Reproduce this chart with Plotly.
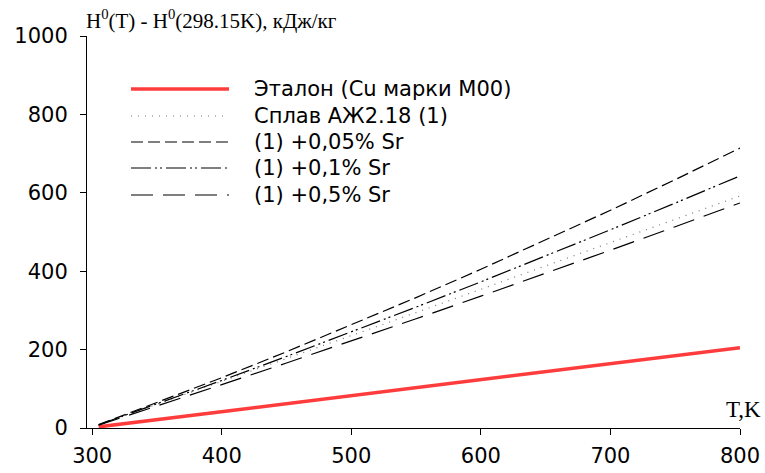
import plotly.graph_objects as go

T = [305, 350, 400, 450, 500, 550, 600, 650, 700, 750, 800]
etalon = [2.9, 21.2, 41.6, 62.0, 82.4, 102.8, 123.2, 143.6, 164.0, 184.4, 204.8]
alloy = [8.1, 60.3, 118.5, 177.0, 235.7, 294.5, 353.6, 412.8, 472.3, 532.1, 592.0]
sr005 = [8.5, 64.4, 128.4, 194.5, 262.6, 332.7, 404.9, 479.1, 555.4, 633.7, 714.0]
sr01 = [8.2, 61.2, 121.3, 182.5, 244.9, 308.4, 372.9, 438.7, 505.7, 573.8, 643.1]
sr05 = [7.5, 56.0, 110.6, 165.9, 221.9, 278.7, 336.3, 394.6, 453.7, 513.5, 574.1]

names = ["Эталон (Cu марки M00)", "Сплав АЖ2.18 (1)", "(1) +0,05% Sr", "(1) +0,1% Sr", "(1) +0,5% Sr"]
x_ticks = [300, 400, 500, 600, 700, 800]
y_ticks = [0, 200, 400, 600, 800, 1000]

styles = [
    dict(color="#ff3c3c", width=3.5, dash="solid"),
    dict(color="#777777", width=1.2, dash="1px,6px"),
    dict(color="black", width=1.2, dash="12px,5px"),
    dict(color="black", width=1.2, dash="20px,4px,2px,3px,2px,4px"),
    dict(color="black", width=1.2, dash="22px,10px"),
]
series = [etalon, alloy, sr005, sr01, sr05]

W, H = 765, 473
L, R, TOP, BOT = 87, 740, 36, 428

def px(x):
    return (x - L) / (R - L)

def py(y):
    return (BOT - y) / (BOT - TOP)

fig = go.Figure()
for s, st, nm in zip(series, styles, names):
    fig.add_trace(go.Scatter(x=T, y=s, mode="lines", name=nm, line=st, showlegend=False))

shapes = []
annotations = []
rows = [89, 116, 142, 168, 195]
for i, (st, nm) in enumerate(zip(styles, names)):
    yy = py(rows[i])
    shapes.append(dict(type="line", xref="paper", yref="paper", x0=px(131), x1=px(229), y0=yy, y1=yy,
                       line=st))
    annotations.append(dict(xref="paper", yref="paper", x=px(252), y=yy, text=nm, showarrow=False,
                            xanchor="left", yanchor="middle",
                            font=dict(family="DejaVu Sans", size=21, color="black")))

annotations.append(dict(xref="paper", yref="paper", x=px(84), y=py(4), yanchor="top", xanchor="left",
                        text="H<sup>0</sup>(T) - H<sup>0</sup>(298.15K), кДж/кг", showarrow=False,
                        font=dict(family="Liberation Serif", size=21, color="black")))
annotations.append(dict(xref="paper", yref="paper", x=px(763), y=py(424), yanchor="bottom", xanchor="right",
                        text="T,K", showarrow=False,
                        font=dict(family="Liberation Serif", size=23, color="black")))

fig.update_layout(
    width=W, height=H,
    margin=dict(l=L, r=W - R, t=TOP, b=H - BOT, autoexpand=False),
    paper_bgcolor="white", plot_bgcolor="white",
    shapes=shapes, annotations=annotations,
    xaxis=dict(range=[296, 800], tickvals=x_ticks, ticks="outside", ticklen=6, tickcolor="black",
               showline=True, linecolor="black", linewidth=1, showgrid=False, zeroline=False,
               ticklabelstandoff=3, automargin=False,
               tickfont=dict(family="DejaVu Sans", size=21, color="black")),
    yaxis=dict(range=[0, 1000], tickvals=y_ticks, ticks="outside", ticklen=6, tickcolor="black",
               showline=True, linecolor="black", linewidth=1, showgrid=False, zeroline=False,
               ticklabelstandoff=8, automargin=False,
               tickfont=dict(family="DejaVu Sans", size=21, color="black")),
)
fig.write_html("out.html")
